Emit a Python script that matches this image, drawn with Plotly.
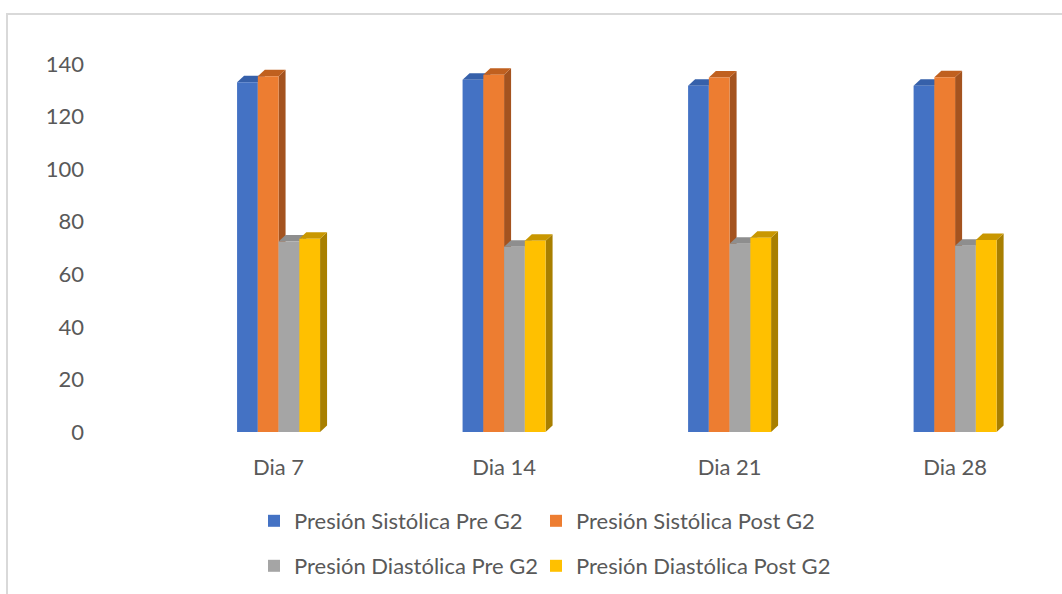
import plotly.graph_objects as go

categories = ["Dia 7", "Dia 14", "Dia 21", "Dia 28"]
series_names = [
    "Presión Sistólica Pre G2",
    "Presión Sistólica Post G2",
    "Presión Diastólica Pre G2",
    "Presión Diastólica Post G2",
]
sist_pre = [133.1, 134.1, 131.8, 131.8]
sist_post = [135.4, 136.0, 134.9, 135.0]
diast_pre = [72.5, 70.5, 71.6, 70.9]
diast_post = [73.5, 72.8, 73.9, 73.1]
y_ticks = [0, 20, 40, 60, 80, 100, 120, 140]

series_values = [sist_pre, sist_post, diast_pre, diast_post]
front_colors = ["#4472C4", "#ED7D31", "#A5A5A5", "#FFC000"]
side_colors = ["#2F528F", "#A4531F", "#7B7B7B", "#A87F00"]
top_colors = ["#3660AA", "#C0601F", "#8E8E8E", "#C99700"]
legend_ids = ["legend", "legend2", "legend3", "legend4"]
# legend item pixel positions (left x, centre y)
legend_px = [(254, 521), (536, 521), (254, 566), (536, 566)]

W, H = 1062, 594
ML, MR, MT, MB = 95, 7, 51, 162
plot_w = W - ML - MR
plot_h = H - MT - MB
x_range = [-0.814, 3.443]
y_range = [0, 145]
px_per_x = plot_w / (x_range[1] - x_range[0])
px_per_y = plot_h / (y_range[1] - y_range[0])

bar_w = 20.75 / px_per_x
dx = 7 / px_per_x
dy = 6.5 / px_per_y

font = dict(family="Lato, 'Open Sans', sans-serif", size=22, color="#595959")

fig = go.Figure()
shapes = []
xpos = list(range(len(categories)))
for k, (name, vals) in enumerate(zip(series_names, series_values)):
    offset = -2 * bar_w + k * bar_w
    fig.add_trace(go.Bar(
        x=xpos, y=vals, name=name, width=bar_w, offset=offset,
        marker=dict(color=front_colors[k], line=dict(width=0)),
        legend=legend_ids[k],
    ))
    for i, v in zip(xpos, vals):
        x0 = i + offset
        x1 = x0 + bar_w
        side = f"M {x1},0 L {x1+dx},{dy} L {x1+dx},{v+dy} L {x1},{v} Z"
        top = f"M {x0},{v} L {x0+dx},{v+dy} L {x1+dx},{v+dy} L {x1},{v} Z"
        shapes.append(dict(type="path", path=side, xref="x", yref="y",
                           fillcolor=side_colors[k], line=dict(width=0), layer="below"))
        shapes.append(dict(type="path", path=top, xref="x", yref="y",
                           fillcolor=top_colors[k], line=dict(width=0), layer="below"))

# outer chart frame
shapes.append(dict(type="rect", xref="paper", yref="paper",
                   x0=(7 - ML) / plot_w, x1=(W + 10 - ML) / plot_w,
                   y0=-(H + 10 - (MT + plot_h)) / plot_h, y1=(MT + plot_h - 14) / plot_h,
                   line=dict(color="#D9D9D9", width=2), fillcolor="rgba(0,0,0,0)", layer="below"))

legends = {}
for lid, (lx, ly) in zip(legend_ids, legend_px):
    legends[lid] = dict(orientation="h", x=(lx - ML) / plot_w, xanchor="left",
                        y=-(ly - (MT + plot_h)) / plot_h, yanchor="middle",
                        font=font, bgcolor="rgba(0,0,0,0)")

fig.update_layout(
    width=W, height=H,
    margin=dict(l=ML, r=MR, t=MT, b=MB, pad=0),
    paper_bgcolor="white", plot_bgcolor="white",
    font=font,
    barmode="overlay",
    shapes=shapes,
    xaxis=dict(range=x_range, tickvals=xpos, ticktext=categories, showgrid=False,
               zeroline=False, showline=False, ticks="", ticklabelstandoff=20,
               tickfont=font),
    yaxis=dict(range=y_range, tickvals=y_ticks, showgrid=False, zeroline=False,
               showline=False, ticks="", ticklabelstandoff=10, tickfont=font),
    showlegend=True,
    **legends,
)

fig.write_html("out.html")
